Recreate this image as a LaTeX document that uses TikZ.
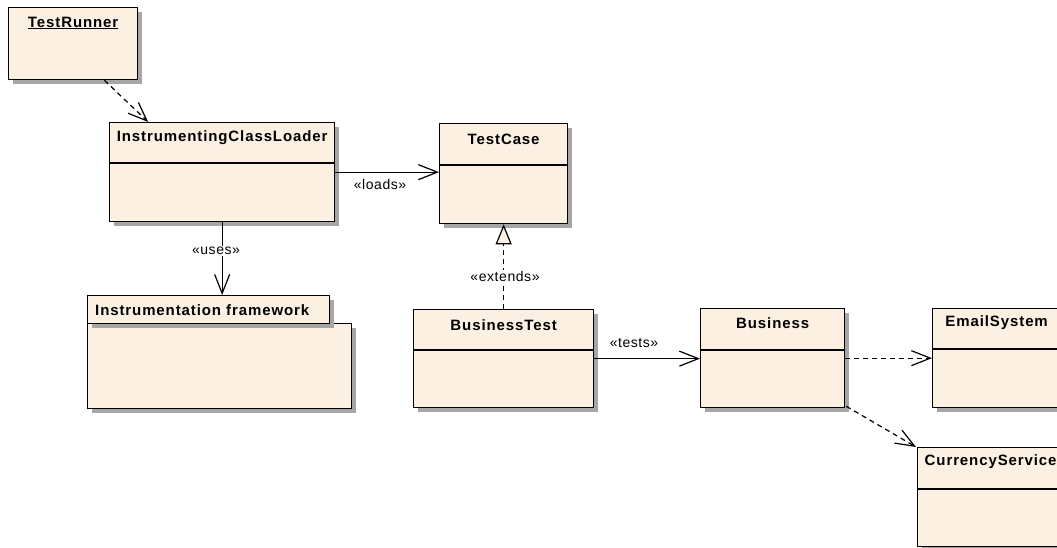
\documentclass[tikz,border=0pt]{standalone}
\usepackage{fontspec}
\setmainfont{Liberation Sans}
\newfontfamily\clsfont{Liberation Sans}[LetterSpace=6]
\newfontfamily\lblfont{Liberation Sans}[LetterSpace=4]
\usetikzlibrary{arrows.meta,shadows,calc}
\definecolor{beige}{RGB}{251,240,225}
\tikzset{
  box/.style={draw=black, line width=1.3pt, fill=beige, anchor=north west, inner sep=0pt,
    drop shadow={shadow xshift=4pt, shadow yshift=-4pt, fill=black!35, opacity=1}},
  cname/.style={font=\clsfont\fontsize{15}{17}\selectfont\bfseries, anchor=center, inner sep=0pt},
  lbl/.style={font=\lblfont\fontsize{14}{16}\selectfont, inner sep=0pt},
  divider/.style={line width=1.3pt},
  conn/.style={line width=1.2pt},
  dep/.style={conn, dash pattern=on 5pt off 4pt},
  openarrow/.style={-{Straight Barb[length=19pt,width=15pt,line width=1.2pt]}},
  genarrow/.style={-{Triangle[open,length=20pt,width=16pt,line width=1.2pt,fill=beige]}}
}
\begin{document}
\begin{tikzpicture}[x=1pt,y=-1pt]
\useasboundingbox (0,0) rectangle (1057,547);
\clip (0,0) rectangle (1057,547);
% TestRunner
\node[box, minimum width=129pt, minimum height=72pt] (tr) at (8,7) {};
\node[cname] (trn) at ($(tr.north)+(0,16)$) {\underline{TestRunner}};
% InstrumentingClassLoader
\node[box, minimum width=225pt, minimum height=99pt] (icl) at (109,122) {};
\node[cname] (icln) at ($(icl.north)+(0,16)$) {InstrumentingClassLoader};
\draw[divider] ($(icl.north west)+(0,41)$) -- ($(icl.north east)+(0,41)$);
% TestCase
\node[box, minimum width=128pt, minimum height=100pt] (tc) at (439,123) {};
\node[cname] (tcn) at ($(tc.north)+(0,16)$) {TestCase};
\draw[divider] ($(tc.north west)+(0,42)$) -- ($(tc.north east)+(0,42)$);
% Instrumentation framework package
\node[box, minimum width=264pt, minimum height=85pt] (pkg) at (87,323) {};
\node[box, minimum width=242pt, minimum height=28pt] (pkgtab) at (87,295) {};
\node[cname, anchor=west] (pkgn) at ($(pkgtab.west)+(8,0)$) {Instrumentation framework};
% BusinessTest
\node[box, minimum width=180pt, minimum height=98pt] (bt) at (413,309) {};
\node[cname] (btn) at ($(bt.north)+(0,16)$) {BusinessTest};
\draw[divider] ($(bt.north west)+(0,41)$) -- ($(bt.north east)+(0,41)$);
% Business
\node[box, minimum width=144pt, minimum height=99pt] (bus) at (700,308) {};
\node[cname] (busn) at ($(bus.north)+(0,15)$) {Business};
\draw[divider] ($(bus.north west)+(0,42)$) -- ($(bus.north east)+(0,42)$);
% EmailSystem
\node[box, minimum width=128pt, minimum height=99pt] (em) at (932,308) {};
\node[cname] (emn) at ($(em.north)+(0,15)$) {EmailSystem};
\draw[divider] ($(em.north west)+(0,41)$) -- ($(em.north east)+(0,41)$);
% CurrencyService
\node[box, minimum width=146pt, minimum height=99pt] (cur) at (917,447) {};
\node[cname] (curn) at ($(cur.north)+(0,15)$) {CurrencyService};
\draw[divider] ($(cur.north west)+(0,42)$) -- ($(cur.north east)+(0,42)$);
% Connectors
\draw[dep, openarrow] ($(tr.south west)!0.74!(tr.south east)$) -- ($(icl.north west)!0.173!(icl.north east)$);
\draw[conn, openarrow] (icl.east) -- (icl.east -| tc.west);
\node[lbl] (loads) at (380,184) {«loads»};
\draw[conn, openarrow] (icl.south) -- (icl.south |- pkgtab.north);
\node[lbl, fill=white, inner sep=1pt] (uses) at (216,251) {«uses»};
\draw[dep, genarrow] (bt.north) -- (bt.north |- tc.south);
\node[lbl, fill=white, inner sep=1pt] (ext) at (505,276) {«extends»};
\draw[conn, openarrow] (bt.east) -- (bt.east -| bus.west);
\node[lbl] (tests) at (634,343) {«tests»};
\draw[dep, openarrow] (bus.east) -- (bus.east -| em.west);
\draw[dep, openarrow] ($(bus.south east)+(1,-2)$) -- ($(cur.north west)+(-1,0)$);
\end{tikzpicture}
\end{document}
